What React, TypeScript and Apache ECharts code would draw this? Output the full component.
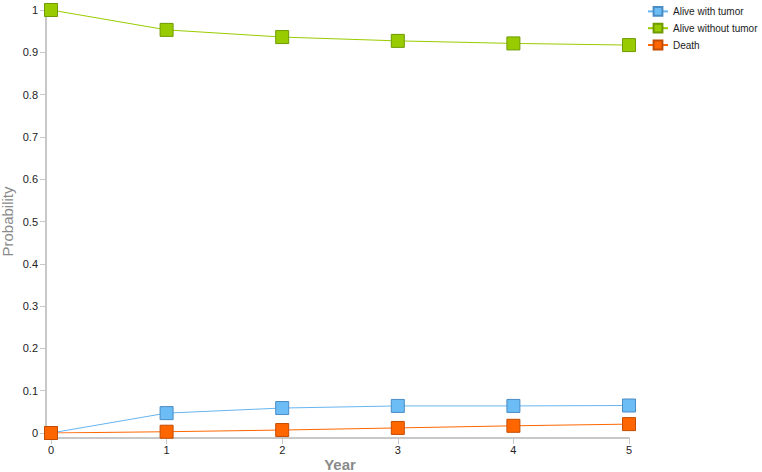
import React, { useEffect, useRef } from "react";
import * as echarts from "echarts";

const years = [0, 1, 2, 3, 4, 5];
const aliveWithTumor = [0, 0.047, 0.059, 0.064, 0.064, 0.065];
const aliveWithoutTumor = [1, 0.953, 0.936, 0.927, 0.921, 0.917];
const death = [0, 0.003, 0.007, 0.012, 0.017, 0.021];
const seriesNames = ["Alive with tumor", "Alive without tumor", "Death"];

const pair = (vals: number[]) => years.map((y, i) => [y, vals[i]]);

export default function App() {
  const ref = useRef<HTMLDivElement>(null);
  useEffect(() => {
    const chart = echarts.init(ref.current!, null, { renderer: "svg" });
    const font = "'Liberation Sans', Arial, sans-serif";
    const mk = (name: string, data: number[], line: string, fill: string, border: string) => ({
      name,
      type: "line",
      data: pair(data),
      symbol: "rect",
      symbolSize: 13,
      lineStyle: { color: line, width: 1 },
      itemStyle: { color: fill, borderColor: border, borderWidth: 1 },
      emphasis: { disabled: true },
    });
    chart.setOption({
      animation: false,
      textStyle: { fontFamily: font },
      grid: {
        left: 51,
        right: 133,
        top: 10,
        bottom: 39,
        containLabel: false,
        outerBoundsMode: "none",
      },
      legend: {
        orient: "vertical",
        left: 642,
        top: 1,
        itemWidth: 20,
        itemHeight: 11,
        itemGap: 6,
        textStyle: { fontSize: 10, color: "#222", fontFamily: font },
        data: seriesNames,
      },
      xAxis: {
        type: "value",
        min: 0,
        max: 5,
        interval: 1,
        offset: 5,
        name: "Year",
        nameLocation: "middle",
        nameGap: 19,
        nameMoveOverlap: false,
        nameTextStyle: { fontSize: 15, fontWeight: "bold", color: "#8a8a8a" },
        axisLine: { onZero: false, lineStyle: { color: "#c8c8c8", width: 2 } },
        axisTick: { length: 6, lineStyle: { color: "#c8c8c8" } },
        axisLabel: { fontSize: 11, color: "#222", margin: 6 },
        splitLine: { show: false },
      },
      yAxis: {
        type: "value",
        min: 0,
        max: 1,
        interval: 0.1,
        offset: 5,
        name: "Probability",
        nameLocation: "middle",
        nameGap: 31,
        nameMoveOverlap: false,
        nameTextStyle: { fontSize: 15, fontWeight: "normal", color: "#8a8a8a" },
        axisLine: { show: true, onZero: false, lineStyle: { color: "#c8c8c8", width: 2 } },
        axisTick: { show: true, length: 6, lineStyle: { color: "#c8c8c8" } },
        axisLabel: { fontSize: 11, color: "#222", margin: 8 },
        splitLine: { show: false },
      },
      series: [
        mk(seriesNames[0], aliveWithTumor, "#66b5f0", "#6cbcf5", "#4a8cc4"),
        mk(seriesNames[1], aliveWithoutTumor, "#99cc00", "#99cc00", "#6f9a00"),
        mk(seriesNames[2], death, "#ff6600", "#ff6600", "#c24d00"),
      ],
    });
    return () => chart.dispose();
  }, []);
  return (
    <div
      ref={ref}
      style={{ position: "absolute", left: 0, top: 0, width: 762, height: 472 }}
    />
  );
}
